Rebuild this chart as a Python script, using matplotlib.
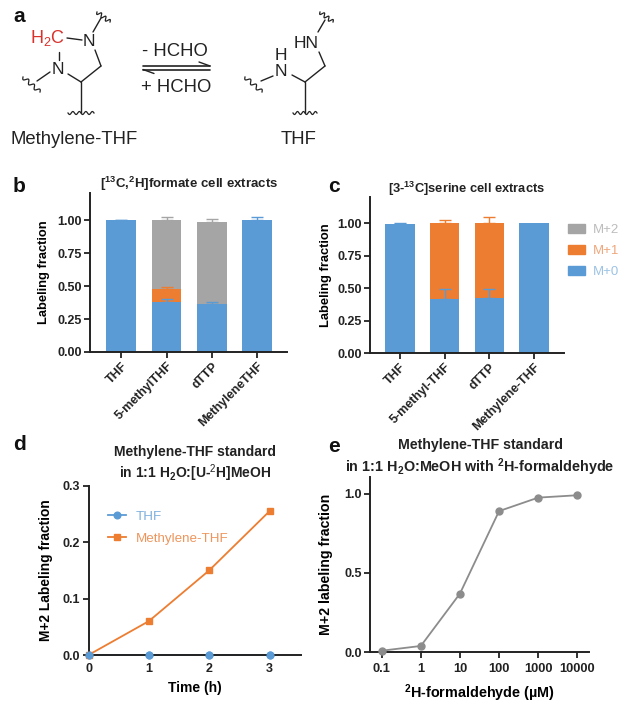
import numpy as np
import matplotlib
matplotlib.use("Agg")
import matplotlib.pyplot as plt
from matplotlib.patches import Patch

plt.rcParams["font.family"] = ["Liberation Sans", "DejaVu Sans"]
plt.rcParams["font.weight"] = "bold"
plt.rcParams["axes.labelweight"] = "bold"
plt.rcParams["mathtext.fontset"] = "custom"
plt.rcParams["mathtext.rm"] = "Liberation Sans:normal"
plt.rcParams["mathtext.bf"] = "Liberation Sans:bold"
plt.rcParams["mathtext.it"] = "Liberation Sans:italic:bold"
plt.rcParams["mathtext.default"] = "bf"

#%% data

labels_b = ["THF", "5-methylTHF", "dTTP", "MethyleneTHF"]
b_m0 = [1.0, 0.38, 0.365, 1.0]
b_m1 = [0.0, 0.095, 0.0, 0.0]
b_m2 = [0.0, 0.525, 0.62, 0.0]
b_m0_err = [0.003, 0.025, 0.015, 0.02]
b_m1_err = [0.0, 0.02, 0.0, 0.0]
b_m2_err = [0.0, 0.02, 0.025, 0.0]

labels_c = ["THF", "5-methyl-THF", "dTTP", "Methylene-THF"]
c_m0 = [0.99, 0.415, 0.425, 1.0]
c_m1 = [0.0, 0.585, 0.575, 0.0]
c_m2 = [0.0, 0.0, 0.0, 0.0]
c_m0_err = [0.01, 0.075, 0.065, 0.0]
c_m1_err = [0.0, 0.025, 0.045, 0.0]
c_m2_err = [0.0, 0.0, 0.0, 0.0]

time_h = [0, 1, 2, 3]
d_thf = [0, 0, 0, 0]
d_methylene = [0, 0.06, 0.15, 0.255]

conc_um = [0.1, 1, 10, 100, 1000, 10000]
conc_labels = ["0.1", "1", "10", "100", "1000", "10000"]
e_fraction = [0.01, 0.04, 0.37, 0.89, 0.975, 0.99]

BLUE = "#5B9BD5"
ORANGE = "#ED7D31"
GRAY = "#A5A5A5"
DARK = "#222222"

W, H = 628, 711
fig = plt.figure(figsize=(W / 100, H / 100), dpi=100)


def px_axes(left, top, right, bottom):
    # axes from picture pixel edges
    ax = fig.add_axes([left / W, 1 - bottom / H, (right - left) / W, (bottom - top) / H])
    ax.patch.set_alpha(0)
    ax.spines["top"].set_visible(False)
    ax.spines["right"].set_visible(False)
    for side in ["left", "bottom"]:
        ax.spines[side].set_linewidth(1.4)
        ax.spines[side].set_color(DARK)
    ax.tick_params(width=1.3, length=4, color=DARK, labelcolor=DARK, labelsize=9, pad=2)
    return ax


def stacked(ax, names, m0, m1, m2, err0, err1, err2):
    x = np.arange(len(names))
    m0, m1, m2 = np.array(m0), np.array(m1), np.array(m2)
    ax.bar(x, m0, 0.655, color=BLUE)
    ax.bar(x, m1, 0.655, bottom=m0, color=ORANGE)
    ax.bar(x, m2, 0.655, bottom=m0 + m1, color=GRAY)
    tops = [m0, m0 + m1, m0 + m1 + m2]
    for top, err, col in zip(tops, [err0, err1, err2], [BLUE, ORANGE, GRAY]):
        err = np.array(err)
        keep = err > 0
        ax.errorbar(x[keep], top[keep], yerr=[np.zeros(keep.sum()), err[keep]], fmt="none",
                    ecolor=col, elinewidth=1.0, capsize=4.5, capthick=1.0, zorder=5)
    ax.set_xticks(x)
    ax.set_xticklabels(names, rotation=45, ha="right", rotation_mode="anchor", fontsize=9)
    ax.set_yticks([0, 0.25, 0.5, 0.75, 1.0])
    ax.set_yticklabels(["0.00", "0.25", "0.50", "0.75", "1.00"])
    ax.set_ylabel("Labeling fraction", fontsize=9.3)


#%% panel b

ax_b = px_axes(90, 193, 287, 352)
stacked(ax_b, labels_b, b_m0, b_m1, b_m2, b_m0_err, b_m1_err, b_m2_err)
ax_b.set_xlim(-0.69, 3.66)
ax_b.set_ylim(0, 1.205)
ax_b.yaxis.set_label_coords((50 - 90) / 197, 0.5)

#%% panel c

ax_c = px_axes(370, 197, 564, 353)
stacked(ax_c, labels_c, c_m0, c_m1, c_m2, c_m0_err, c_m1_err, c_m2_err)
ax_c.set_xlim(-0.67, 3.67)
ax_c.set_ylim(0, 1.2)
ax_c.yaxis.set_label_coords((332 - 370) / 194, 0.5)
handles = [Patch(color=GRAY, label="M+2"), Patch(color=ORANGE, label="M+1"), Patch(color=BLUE, label="M+0")]
leg = ax_c.legend(handles=handles, frameon=False, loc="upper left", bbox_to_anchor=(1.02, 0.825),
                  borderaxespad=0, borderpad=0, handlelength=1.29, handleheight=0.6, handletextpad=0.6,
                  labelspacing=0.68, prop={"size": 9.5, "weight": "normal"})
for txt, col in zip(leg.get_texts(), ["#BDBDBD", "#EFA77C", "#9CC3E4"]):
    txt.set_color(col)

#%% panel d

ax_d = px_axes(88.5, 485.7, 301, 655)
ax_d.plot(time_h, d_thf, "-o", color=BLUE, lw=1.3, ms=4.8, clip_on=False, zorder=1.5, label="THF")
ax_d.plot(time_h, d_methylene, "-s", color=ORANGE, lw=1.3, ms=4.8, clip_on=False, zorder=3, label="Methylene-THF")
ax_d.plot(time_h, d_thf, "o", color=BLUE, ms=4.8, clip_on=False, zorder=4)  # dots over the axis line
ax_d.set_xlim(0, 3.52)
ax_d.set_ylim(0, 0.3)
ax_d.set_xticks(time_h)
ax_d.tick_params(axis="x", length=0, pad=6)  # no x tick marks in this panel
ax_d.set_yticks([0, 0.1, 0.2, 0.3])
ax_d.set_yticklabels(["0.0", "0.1", "0.2", "0.3"])
ax_d.set_xlabel("Time (h)", fontsize=10)
ax_d.set_ylabel("M+2 Labeling fraction", fontsize=9.9)
ax_d.xaxis.set_label_coords(0.5, -(688 - 655) / 169.3, )
ax_d.xaxis.label.set_va("center")
ax_d.yaxis.set_label_coords((53 - 88.5) / 212.5, 0.5)
ax_d.legend(frameon=False, loc="upper left", bbox_to_anchor=(0.092, 0.853), borderaxespad=0, borderpad=0,
            handlelength=1.35, handletextpad=0.75, labelspacing=0.7, labelcolor=["#7FB0DC", "#EE955C"],
            prop={"size": 9.6, "weight": "normal"})

#%% panel e

ax_e = px_axes(370, 477, 589, 652.3)
ax_e.plot(conc_um, e_fraction, "-o", color="#8C8C8C", lw=1.3, ms=5, clip_on=False, zorder=4)
ax_e.set_xscale("log")
ax_e.set_xlim(10 ** -1.3, 10 ** 4.3)
ax_e.set_ylim(0, 1.105)
ax_e.set_xticks(conc_um)
ax_e.set_xticklabels(conc_labels, fontsize=9.3)
ax_e.minorticks_off()
ax_e.tick_params(axis="x", pad=3.5)
ax_e.set_yticks([0, 0.5, 1.0])
ax_e.set_yticklabels(["0.0", "0.5", "1.0"])
ax_e.set_xlabel("$^{2}$H-formaldehyde (µM)", fontsize=10.35)
ax_e.set_ylabel("M+2 labeling fraction", fontsize=10.2)
ax_e.xaxis.set_label_coords((479 - 370) / 219, -(693 - 652.3) / 175.3)
ax_e.xaxis.label.set_va("center")
ax_e.yaxis.set_label_coords((333 - 370) / 219, 0.5)

#%% overlay in picture pixels: titles, panel letters, structures

ov = fig.add_axes([0, 0, 1, 1])
ov.set_xlim(0, W)
ov.set_ylim(H, 0)
ov.axis("off")
ov.patch.set_alpha(0)

for letter, px, py in [("a", 13, 17), ("b", 13, 186), ("c", 328, 187), ("d", 13, 445), ("e", 328, 446)]:
    ov.text(px, py, letter, fontsize=15, ha="left", va="center", color="#111111")

ov.text(189, 184, "[$^{13}$C,$^{2}$H]formate cell extracts", fontsize=9.5, ha="center", va="center", color=DARK)
ov.text(467, 189, "[3-$^{13}$C]serine cell extracts", fontsize=9.3, ha="center", va="center", color=DARK)
ov.text(195, 452, "Methylene-THF standard", fontsize=10, ha="center", va="center", color=DARK)
ov.text(195, 473, "in 1:1 H$_{2}$O:[U-$^{\\mathit{2}}$H]MeOH", fontsize=10, ha="center", va="center", color=DARK)
ov.text(480, 445, "Methylene-THF standard", fontsize=10.2, ha="center", va="center", color=DARK)
ov.text(480, 467, "in 1:1 H$_{2}$O:MeOH with $^{2}$H-formaldehyde", fontsize=10.4, ha="center", va="center", color=DARK)


def bond(x0, y0, x1, y1, color="#222222", lw=1.0):
    ov.plot([x0, x1], [y0, y1], color=color, lw=lw, solid_capstyle="round")


def squiggle(x0, y0, x1, y1, waves=3, amp=2.0):
    t = np.linspace(0, 1, 60)
    dx, dy = x1 - x0, y1 - y0
    n = np.hypot(dx, dy)
    off = amp * np.sin(2 * np.pi * waves * t)
    ov.plot(x0 + dx * t - dy / n * off, y0 + dy * t + dx / n * off, color="#222222", lw=0.9)


def atom(x, y, s, color="#222222", size=12.5):
    ov.text(x, y, s, fontsize=size, fontweight="normal", ha="center", va="center", color=color)


# methylene-THF
atom(47, 38, "$\\mathrm{H_{2}C}$", color="#D9322B", size=13)
atom(89, 41, "N")
atom(58, 70, "N")
for seg in [(67, 38, 82, 40), (59, 52, 59, 60), (95, 50, 101, 66), (101, 66, 81, 82), (81, 82, 68, 74),
            (81, 82, 81, 113), (50, 72, 37, 81), (93, 32, 101, 18)]:
    bond(*seg)
squiggle(23, 77, 40, 92)
squiggle(97, 12, 110, 22)
squiggle(68, 113, 94, 113, waves=4, amp=1.5)

# THF
atom(306, 43, "HN")
atom(281, 55, "H")
atom(281, 71, "N")
for seg in [(319, 52, 325, 66), (325, 66, 305, 82), (305, 82, 292, 75), (305, 82, 305, 113),
            (273, 76, 261, 81), (318, 32, 325, 20)]:
    bond(*seg)
squiggle(245, 77, 262, 92)
squiggle(320, 12, 333, 22)
squiggle(293, 113, 317, 113, waves=4, amp=1.5)

# equilibrium arrows
atom(175, 52, "- HCHO", size=13.3)
atom(176, 88, "+ HCHO", size=13.3)
bond(143, 66, 210, 66, lw=1.2)
bond(143, 69.5, 210, 69.5, lw=1.2)
bond(210, 66, 199, 62)
bond(143, 69.5, 154, 73.5)

atom(74, 139, "Methylene-THF", size=13.3)
atom(299, 139, "THF", size=13.3)

fig.savefig("out.png", dpi=100)
